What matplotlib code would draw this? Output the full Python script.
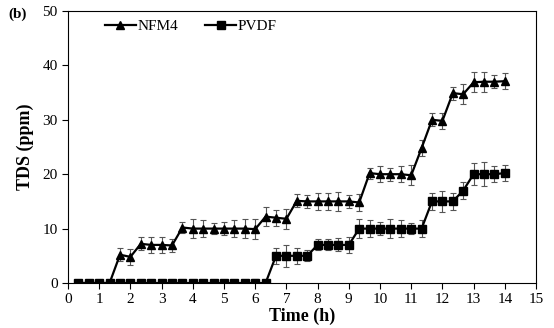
import numpy as np
import matplotlib.pyplot as plt
from matplotlib.lines import Line2D

plt.rcParams['font.family'] = ['Liberation Serif', 'DejaVu Serif']

# time points (h), every 20 min
time_h = [k / 3.0 for k in range(1, 43)]

nfm4 = [0, 0, 0, 0, 5.2, 4.8, 7.2, 7.0, 7.0, 6.9,
        10.2, 10, 10, 10, 10, 10, 10, 9.9, 12.2, 12.0,
        11.8, 15.1, 15, 15, 15, 15, 15, 14.8, 20.2, 20,
        20, 20, 19.8, 24.8, 30.0, 29.8, 34.9, 34.7, 36.9, 37,
        37, 37.1]
nfm4_err = [0.3, 0.3, 0.5, 0.5, 1.2, 1.5, 1.2, 1.5, 1.5, 1.2,
            1.0, 1.8, 1.5, 1.0, 1.2, 1.5, 1.8, 1.8, 1.8, 1.5,
            1.8, 1.2, 1.2, 1.5, 1.5, 1.8, 1.2, 1.5, 1.0, 1.5,
            1.2, 1.5, 1.8, 1.5, 1.2, 1.5, 1.2, 1.8, 1.8, 1.8,
            1.2, 1.5]

pvdf = [0, 0, 0, 0, 0, 0, 0, 0, 0, 0,
        0, 0, 0, 0, 0, 0, 0, 0, 0, 5,
        5, 5, 5, 7, 7, 7, 7, 10, 10, 10,
        10, 10, 10, 10, 15, 15, 15, 17, 20, 20,
        20, 20.2]
pvdf_err = [0.2, 0.2, 0.5, 0.3, 0.2, 0.2, 0.2, 0.2, 0.2, 0.3,
            0.2, 0.3, 0.3, 0.5, 0.5, 0.5, 0.5, 0.8, 0.5, 1.5,
            2.0, 1.5, 1.0, 1.0, 1.0, 1.2, 1.5, 1.8, 1.5, 1.2,
            1.8, 1.5, 1.0, 1.5, 1.5, 2.0, 1.5, 1.5, 2.0, 2.2,
            1.5, 1.5]

fig = plt.figure(figsize=(5.54, 3.28), dpi=100)
ax = fig.add_axes([68/554, 45/328, 468/554, 272/328])

ax.errorbar(time_h, nfm4, yerr=nfm4_err, color='black', marker='^', markersize=5.5,
            linewidth=1.6, ecolor='#555555', elinewidth=0.8, capsize=2.5, capthick=0.8,
            zorder=3)
ax.errorbar(time_h, pvdf, yerr=pvdf_err, color='black', marker='s', markersize=5.5,
            linewidth=1.6, ecolor='#555555', elinewidth=0.8, capsize=2.5, capthick=0.8,
            zorder=3)

ax.set_xlim(0, 15)
ax.set_ylim(0, 50)
ax.set_xticks(range(0, 16))
ax.set_yticks(range(0, 51, 10))
ax.tick_params(direction='out', labelsize=11, length=4, width=0.8)
ax.get_xaxis().tick_bottom()
ax.get_yaxis().tick_left()
for s in ax.spines.values():
    s.set_linewidth(0.8)

ax.set_xlabel('Time (h)', fontsize=13, fontweight='bold', labelpad=1)
ax.set_ylabel('TDS (ppm)', fontsize=13, fontweight='bold', labelpad=6)

handles = [Line2D([], [], color='black', marker='^', markersize=5.5, linewidth=1.6),
           Line2D([], [], color='black', marker='s', markersize=6, linewidth=1.6)]
ax.legend(handles, ['NFM4', 'PVDF'], loc='upper left', ncol=2, frameon=False,
          fontsize=11, handlelength=2.0, handletextpad=0.1, columnspacing=1.8,
          bbox_to_anchor=(0.05, 1.02))

fig.text(8/554, 1 - 18/328, '(b)', fontsize=11, fontweight='bold')

fig.savefig('out.png', dpi=100)
